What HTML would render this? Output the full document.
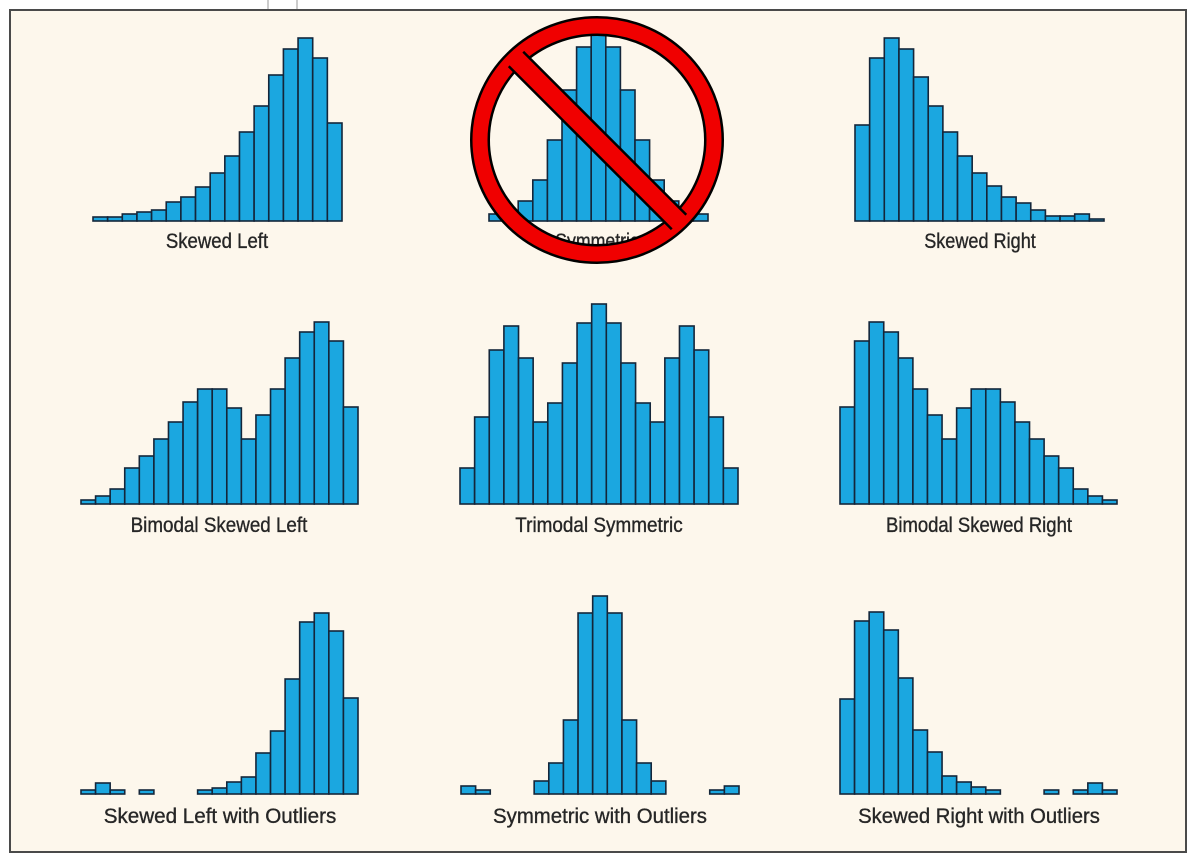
<!DOCTYPE html>
<html><head><meta charset="utf-8"><style>
html,body{margin:0;padding:0;background:#fff;}
svg{display:block;}
.lbl{font-family:"Liberation Sans",sans-serif;font-size:21px;fill:#262626;stroke:#262626;stroke-width:0.35;text-anchor:middle;}
</style></head><body>
<svg id="chart" width="1194" height="857" viewBox="0 0 1194 857">
<rect x="0" y="0" width="1194" height="857" fill="#ffffff"/>
<rect x="10" y="10" width="1176" height="842" fill="#fdf7ec" stroke="#4a4a4a" stroke-width="2"/>
<line x1="268" y1="0" x2="268" y2="9" stroke="#999" stroke-width="1"/>
<line x1="297" y1="0" x2="297" y2="9" stroke="#999" stroke-width="1"/>
<g id="bars"></g>
<g id="labels"></g>
<g>
<ellipse cx="597" cy="140" rx="117" ry="114" fill="none" stroke="#000" stroke-width="20"/>
<ellipse cx="597" cy="140" rx="117" ry="114" fill="none" stroke="#f00000" stroke-width="15"/>
<line x1="516" y1="59" x2="679" y2="222" stroke="#000" stroke-width="23"/>
<line x1="512" y1="55" x2="683" y2="226" stroke="#f00000" stroke-width="18"/>
</g>
</svg>
<script>
const skewedLeft = [4,4,7,9,11,19,24,34,48,65,89,115,146,172,183,163,98];
const symmetric = [7,7,20,41,81,131,174,186,174,131,81,41,20,7,7];
const skewedRight = [96,163,183,172,144,115,89,65,48,35,24,18,11,5,5,7,2];
const bimodalLeft = [4,8,15,36,48,65,82,102,115,115,96,65,89,115,146,172,182,163,97];
const trimodal = [36,87,154,178,146,82,101,141,181,200,181,141,101,82,146,178,154,87,36];
const bimodalRight = [97,163,182,172,146,115,89,65,96,115,115,102,82,65,48,36,15,8,4];
const leftOutliers = [4,11,4,0,4,0,0,0,4,6,12,17,41,63,115,172,181,163,96];
const symOutliers = [8,4,0,0,0,13,31,74,181,198,181,74,31,13,0,0,0,4,8];
const rightOutliers = [95,173,182,164,116,64,42,18,12,7,4,0,0,0,4,0,4,11,4];
const titles = ["Skewed Left","Symmetric","Skewed Right","Bimodal Skewed Left","Trimodal Symmetric","Bimodal Skewed Right","Skewed Left with Outliers","Symmetric with Outliers","Skewed Right with Outliers"];

const NS="http://www.w3.org/2000/svg";
const panels=[
 {d:skewedLeft,x0:93,x1:342,base:221,name:"skewed-left",lx:217,ly:248},
 {d:symmetric,x0:489,x1:708,base:221,name:"symmetric",lx:597,ly:248},
 {d:skewedRight,x0:855,x1:1104,base:221,name:"skewed-right",lx:980,ly:248},
 {d:bimodalLeft,x0:81,x1:358,base:504,name:"bimodal-skewed-left",lx:219,ly:532},
 {d:trimodal,x0:460,x1:738,base:504,name:"trimodal-symmetric",lx:599,ly:532},
 {d:bimodalRight,x0:840,x1:1117,base:504,name:"bimodal-skewed-right",lx:979,ly:532},
 {d:leftOutliers,x0:81,x1:358,base:794,name:"skewed-left-outliers",lx:220,ly:823},
 {d:symOutliers,x0:461,x1:739,base:794,name:"symmetric-outliers",lx:600,ly:823},
 {d:rightOutliers,x0:840,x1:1117,base:794,name:"skewed-right-outliers",lx:979,ly:823}
];
const gb=document.getElementById('bars'), gl=document.getElementById('labels');
panels.forEach((p,pi)=>{
  const g=document.createElementNS(NS,'g');
  
  
  const w=(p.x1-p.x0)/p.d.length;
  const xs=i=>p.x0+i*w;
  const ys=v=>p.base-v;
  p.d.forEach((v,i)=>{
    if(v<=0) return;
    const r=document.createElementNS(NS,'rect');
    r.setAttribute('x',xs(i)); r.setAttribute('y',ys(v));
    r.setAttribute('width',w); r.setAttribute('height',v);
    r.setAttribute('fill','#1ba7e0'); r.setAttribute('stroke','#14263a'); r.setAttribute('stroke-width','1.6');
    
    
    g.appendChild(r);
  });
  gb.appendChild(g);
  const t=document.createElementNS(NS,'text');
  t.setAttribute('x',p.lx); t.setAttribute('y',p.ly);
  t.setAttribute('class','lbl');
  t.setAttribute('textLength', titles[pi].length*9.3);
  t.setAttribute('lengthAdjust','spacingAndGlyphs');
  t.textContent=titles[pi];
  
  
  gl.appendChild(t);
});
</script>
</body></html>
